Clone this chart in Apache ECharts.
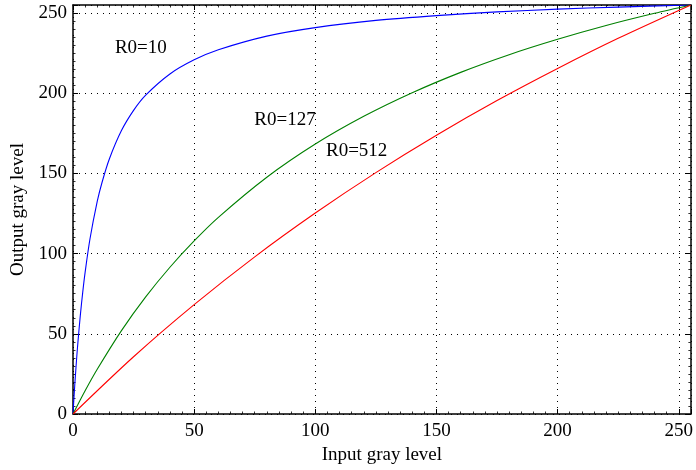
<!DOCTYPE html>
<html>
<head>
<meta charset="utf-8">
<script src="https://cdn.jsdelivr.net/npm/echarts@6/dist/echarts.min.js"></script>
<style>html,body{margin:0;padding:0;background:#fff;}#c{width:696px;height:470px;}</style>
</head>
<body>
<div id="c"></div>
<script>
// Curves (input gray level -> output gray level)
const r10X = [0, 0.5, 1, 1.5, 2, 3, 4, 5, 7, 10, 12, 15, 20, 25, 30, 40, 50, 60, 80, 100, 125, 150, 175, 200, 225, 255];
const r10Y = [0, 12.6, 24.1, 34.6, 44.2, 61.2, 75.7, 88.3, 109.1, 132.5, 144.5, 159, 176.7, 189.3, 198.8, 212, 220.8, 227.1, 235.6, 240.9, 245.4, 248.4, 250.7, 252.4, 253.7, 255];
const r127X = [0, 5, 10, 20, 30, 40, 50, 60, 80, 100, 120, 140, 160, 180, 200, 220, 240, 255];
const r127Y = [0, 14.5, 27.9, 52.0, 73.0, 91.5, 107.9, 122.6, 147.6, 168.3, 185.6, 200.3, 213.0, 224.0, 233.6, 242.2, 249.8, 255];
const r512X = [0, 25, 50, 75, 100, 125, 150, 175, 200, 225, 255];
const r512Y = [0, 35.7, 68.2, 98.0, 125.3, 150.5, 173.8, 195.4, 215.4, 234.2, 255];
const labelTexts = ['R0=10', 'R0=127', 'R0=512'];
const labelX = [17.3, 74.8, 104.4];
const labelY = [228, 183, 164];

const zip = (xs, ys) => xs.map((x, i) => [x, ys[i]]);
const font = 'Liberation Serif';
const gridLine = {show: true, lineStyle: {color: '#000', type: [1, 5], width: 1}};
const baseAxis = {
  type: 'value', min: 0, max: 255, interval: 50,
  axisLine: {show: true, onZero: false, lineStyle: {color: '#000', width: 1.5}},
  axisTick: {show: true, inside: true, length: 5, lineStyle: {color: '#000', width: 1}},
  minorTick: {show: true, splitNumber: 10, length: 2.5, lineStyle: {color: '#000', width: 0.8}},
  splitLine: {show: false}
};

const chart = echarts.init(document.getElementById('c'), null, {renderer: 'canvas'});
chart.setOption({
  animation: false,
  backgroundColor: '#fff',
  grid: {left: 73, right: 3, top: 5, bottom: 56, containLabel: false},
  xAxis: [
    Object.assign({}, baseAxis, {
      position: 'bottom',
      name: 'Input gray level', nameLocation: 'middle', nameGap: 30,
      nameTextStyle: {fontFamily: font, fontSize: 19, color: '#000'},
      axisLabel: {fontFamily: font, fontSize: 19, color: '#000', margin: 8},
      splitLine: gridLine
    }),
    Object.assign({}, baseAxis, {position: 'top', axisLabel: {show: false}})
  ],
  yAxis: [
    Object.assign({}, baseAxis, {
      position: 'left',
      name: 'Output gray level', nameLocation: 'middle', nameGap: 42,
      nameTextStyle: {fontFamily: font, fontSize: 19, color: '#000'},
      axisLabel: {fontFamily: font, fontSize: 19, color: '#000', margin: 6},
      splitLine: gridLine
    }),
    Object.assign({}, baseAxis, {position: 'right', axisLabel: {show: false}})
  ],
  series: [
    {type: 'line', data: zip(r10X, r10Y), showSymbol: false, smooth: 0.3, lineStyle: {color: '#0000ff', width: 1.1}, z: 3},
    {type: 'line', data: zip(r127X, r127Y), showSymbol: false, smooth: 0.3, lineStyle: {color: '#008000', width: 1.1}, z: 3},
    {type: 'line', data: zip(r512X, r512Y), showSymbol: false, smooth: 0.3, lineStyle: {color: '#ff0000', width: 1.1}, z: 3},
    {
      type: 'scatter', symbolSize: 0, silent: true, z: 5,
      itemStyle: {opacity: 1, color: '#000'},
      data: labelTexts.map((t, i) => ({value: [labelX[i], labelY[i]], name: t})),
      label: {show: true, position: 'right', distance: 0, formatter: p => p.name, opacity: 1,
              fontFamily: font, fontSize: 19, color: '#000'}
    }
  ]
});
</script>
</body>
</html>
